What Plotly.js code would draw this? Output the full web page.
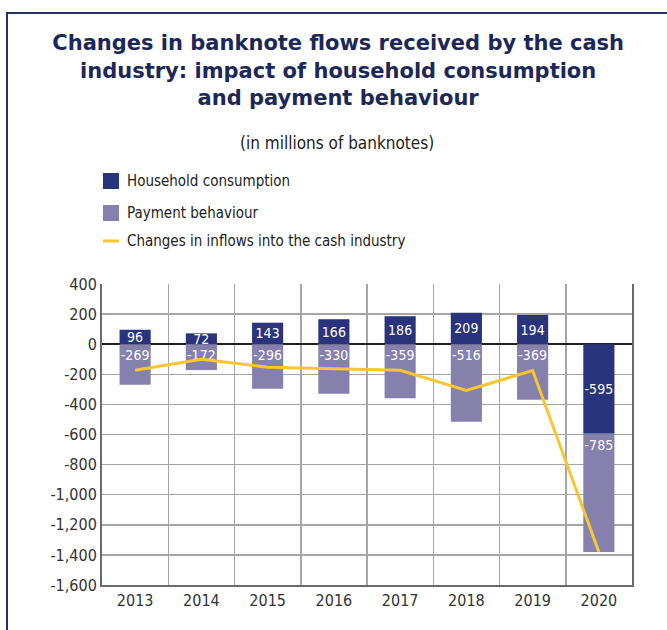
<!DOCTYPE html>
<html>
<head>
<meta charset="utf-8">
<script src="https://cdn.plot.ly/plotly-3.0.1.min.js"></script>
<style>
html,body{margin:0;padding:0;background:#fff;}
#frame{position:absolute;left:6px;top:12px;width:720px;height:700px;border-top:2px solid #27325e;border-left:2px solid #27325e;box-sizing:border-box;}
#chart{position:absolute;left:0;top:0;width:667px;height:630px;}
</style>
</head>
<body>
<div id="frame"></div>
<div id="chart"></div>
<script>
const years = ['2013','2014','2015','2016','2017','2018','2019','2020'];
const household = [96, 72, 143, 166, 186, 209, 194, -595];
const payment = [-269, -172, -296, -330, -359, -516, -369, -785];
const inflows = [-173, -100, -153, -164, -173, -307, -175, -1380];
const yTickVals = [400, 200, 0, -200, -400, -600, -800, -1000, -1200, -1400, -1600];
const yTickText = ['400', '200', '0', '-200', '-400', '-600', '-800', '-1,000', '-1,200', '-1,400', '-1,600'];
const seriesNames = ['Household consumption', 'Payment behaviour', 'Changes in inflows into the cash industry'];
const seriesColors = ['#2a347c', '#8680ad', '#f8c630'];

const narrow = '"DejaVu Sans Condensed", "Liberation Sans Narrow", sans-serif';

const traces = [
  {
    type: 'bar', name: seriesNames[0], x: years, y: household,
    marker: {color: seriesColors[0]},
    text: household.map(String), textposition: 'inside', insidetextanchor: 'middle',
    textangle: 0, constraintext: 'none', cliponaxis: false,
    textfont: {color: '#ffffff', size: 14, family: narrow},
    hoverinfo: 'skip'
  },
  {
    type: 'bar', name: seriesNames[1], x: years, y: payment,
    marker: {color: seriesColors[1]},
    text: payment.map(String), textposition: 'inside', insidetextanchor: 'start',
    textangle: 0, constraintext: 'none', cliponaxis: false,
    textfont: {color: '#ffffff', size: 14, family: narrow},
    hoverinfo: 'skip'
  },
  {
    type: 'scatter', mode: 'lines', name: seriesNames[2],
    x: years, y: inflows,
    line: {color: seriesColors[2], width: 3},
    hoverinfo: 'skip'
  }
];

// custom legend (pixel positions converted to paper coords)
const plotL = 102, plotR = 632, plotT = 284, plotB = 585;
const px = v => (v - plotL) / (plotR - plotL);
const py = v => (plotB - v) / (plotB - plotT);
const legendRows = [181, 213, 241];
const shapes = [
  {type: 'rect', xref: 'paper', yref: 'paper', x0: px(103), x1: px(119), y0: py(legendRows[0] - 8), y1: py(legendRows[0] + 8), fillcolor: seriesColors[0], line: {width: 0}},
  {type: 'rect', xref: 'paper', yref: 'paper', x0: px(103), x1: px(119), y0: py(legendRows[1] - 8), y1: py(legendRows[1] + 8), fillcolor: seriesColors[1], line: {width: 0}},
  {type: 'line', xref: 'paper', yref: 'paper', x0: px(103), x1: px(119), y0: py(legendRows[2]), y1: py(legendRows[2]), line: {color: seriesColors[2], width: 3}}
];
const annotations = [{
  text: '(in millions of banknotes)', xref: 'paper', yref: 'paper',
  x: px(337), y: py(143), xanchor: 'center', yanchor: 'middle',
  showarrow: false, font: {family: narrow, size: 17, color: '#222'}
}];
seriesNames.forEach((n, i) => annotations.push({
  text: n, xref: 'paper', yref: 'paper', x: px(125), y: py(legendRows[i]),
  xanchor: 'left', yanchor: 'middle', showarrow: false,
  font: {family: narrow, size: 15, color: '#222'}
}));

const layout = {
  width: 667, height: 630,
  margin: {l: plotL, r: 667 - plotR, t: plotT, b: 630 - plotB},
  paper_bgcolor: 'rgba(0,0,0,0)',
  plot_bgcolor: '#ffffff',
  barmode: 'relative',
  bargap: 0.53,
  showlegend: false,
  title: {
    text: 'Changes in banknote flows received by the cash<br>industry: impact of household consumption<br>and payment behaviour',
    font: {family: '"DejaVu Sans", sans-serif', size: 21, color: '#1c2858', weight: 'bold'},
    x: 0.507, xref: 'container', xanchor: 'center',
    y: 0.92, yref: 'container', yanchor: 'top'
  },
  shapes: shapes,
  annotations: annotations,
  xaxis: {
    type: 'category', tickson: 'boundaries', ticks: '',
    showgrid: true, gridcolor: '#a6a6a6', gridwidth: 1.5,
    showline: true, linecolor: '#6b6b6b', linewidth: 2, mirror: false,
    tickfont: {family: narrow, size: 16, color: '#333'},
    fixedrange: true
  },
  yaxis: {
    range: [-1600, 400], tickvals: yTickVals, ticktext: yTickText,
    showgrid: true, gridcolor: '#a6a6a6', gridwidth: 1.5,
    zeroline: true, zerolinecolor: '#222', zerolinewidth: 1.5,
    showline: true, linecolor: '#6b6b6b', linewidth: 2, mirror: true,
    ticks: '', ticklen: 0,
    tickfont: {family: narrow, size: 16, color: '#333'},
    fixedrange: true
  }
};

Plotly.newPlot('chart', traces, layout, {displayModeBar: false, staticPlot: true});
</script>
</body>
</html>
